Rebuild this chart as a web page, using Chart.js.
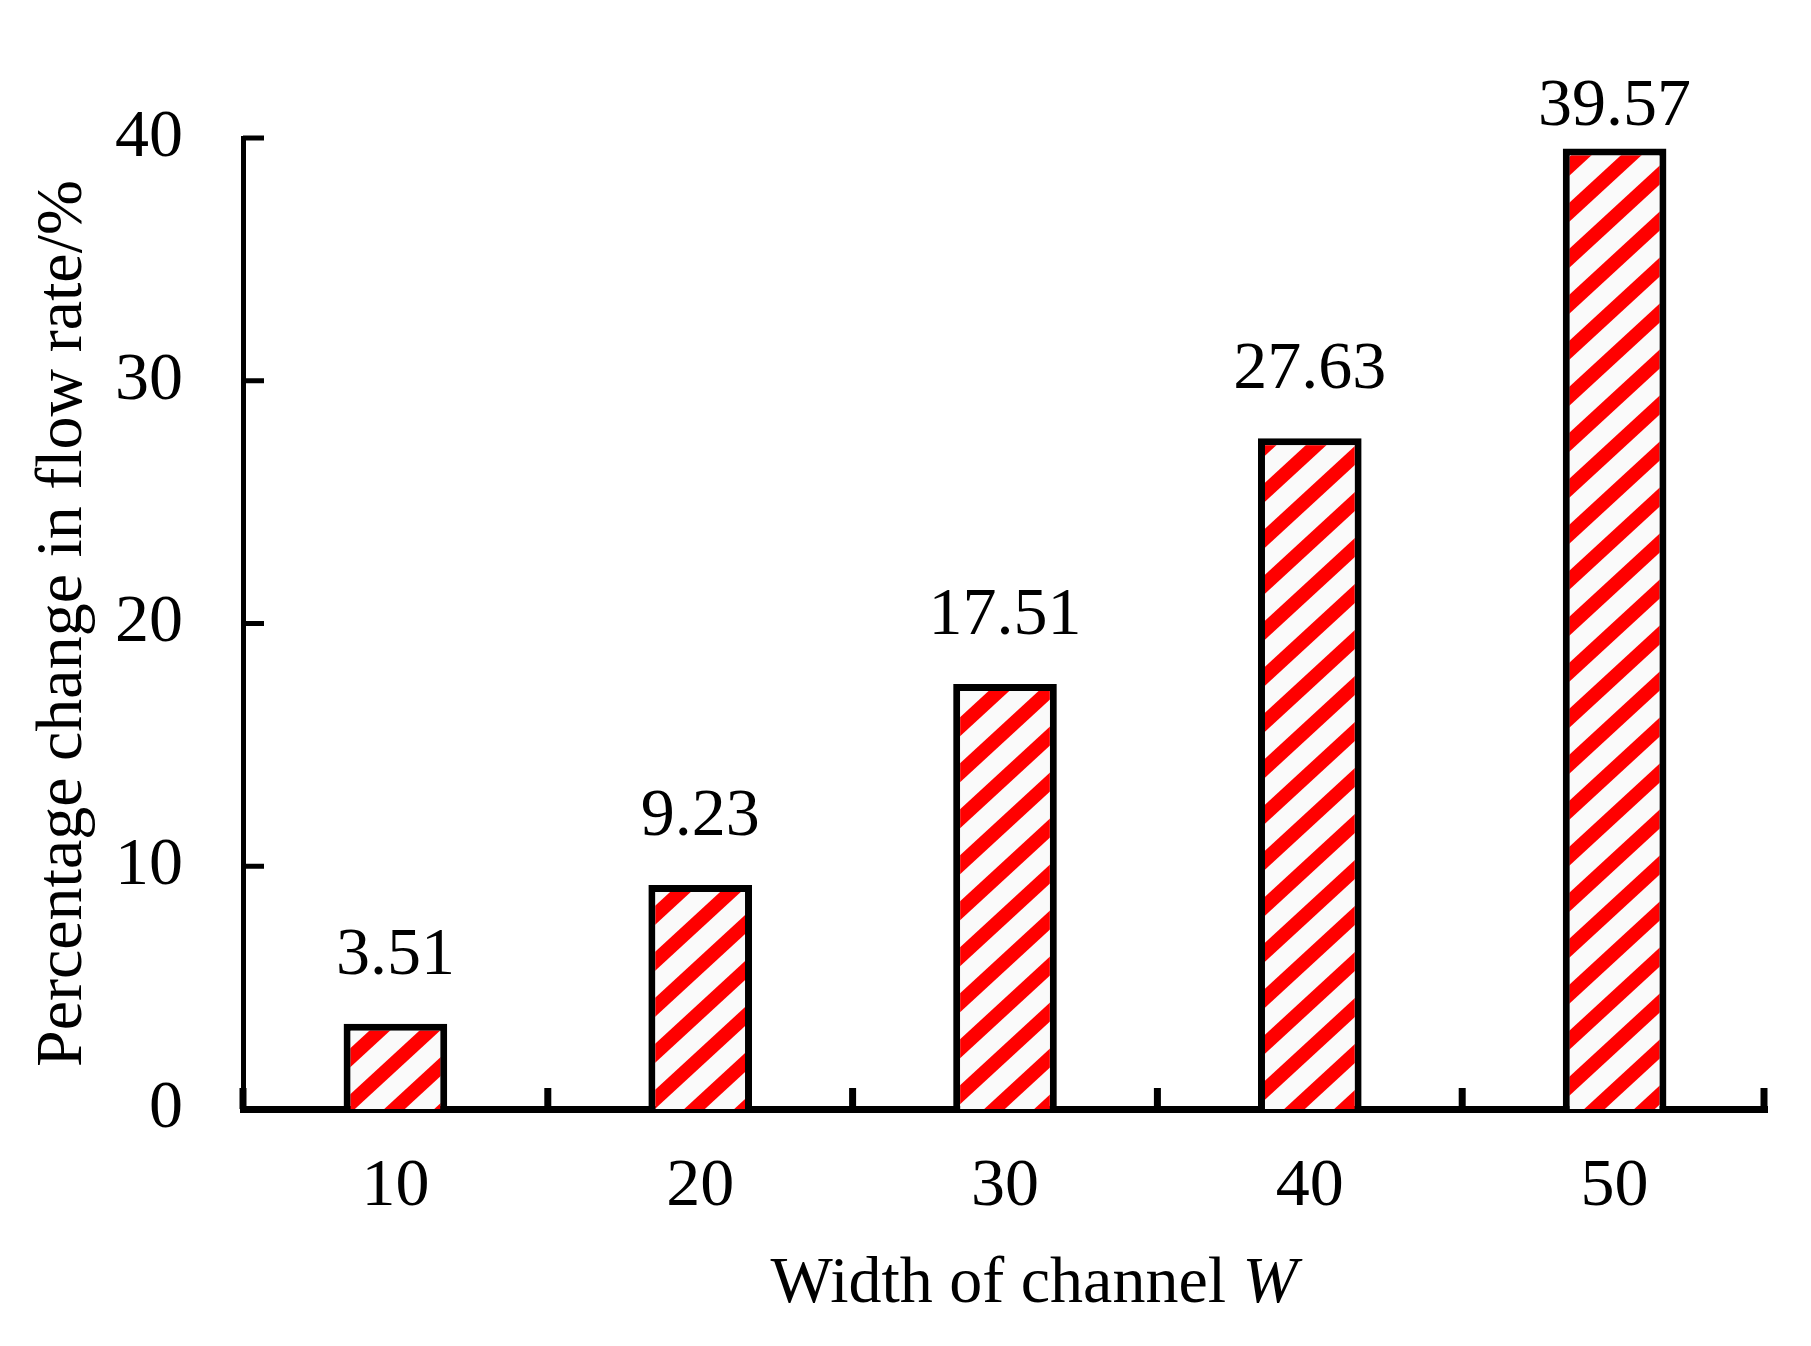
<!DOCTYPE html>
<html lang="en">
<head>
    <meta charset="UTF-8">
    <title>Percentage change in flow rate</title>
    <script src="https://cdn.jsdelivr.net/npm/chart.js"></script>
    <style>
        html, body { margin: 0; padding: 0; background: #fff; }
        .chart-container { position: relative; width: 1811px; height: 1346px; }
    </style>
</head>
<body>
    <div class="chart-container">
        <canvas id="flowChart"></canvas>
    </div>
    <script>
        // Data
        const widths = ['10', '20', '30', '40', '50'];
        const changes = [3.51, 9.23, 17.51, 27.63, 39.57];
        const valueLabels = ['3.51', '9.23', '17.51', '27.63', '39.57'];
        const yTicks = [0, 10, 20, 30, 40];

        const serif = '"Liberation Serif", "Times New Roman", serif';
        Chart.defaults.color = '#000';

        // Red diagonal hatch used as bar fill
        function makeHatch() {
            const c = document.createElement('canvas');
            c.width = 50;
            c.height = 46;
            const g = c.getContext('2d');
            g.fillStyle = '#fafafa';
            g.fillRect(0, 0, 50, 46);
            g.strokeStyle = '#ff0000';
            g.lineWidth = 14;
            for (let k = -1; k <= 1; k++) {
                g.beginPath();
                g.moveTo(k * 50 - 50, 92);
                g.lineTo(k * 50 + 100, -46);
                g.stroke();
            }
            return g.createPattern(c, 'repeat');
        }

        // Inward tick marks, value labels and axis titles
        const decor = {
            id: 'decor',
            afterDraw(chart) {
                const ctx = chart.ctx;
                const xs = chart.scales.x;
                const ys = chart.scales.y;
                const area = chart.chartArea;
                ctx.save();
                ctx.strokeStyle = '#000';

                ctx.lineWidth = 5;
                ys.ticks.forEach((t, i) => {
                    const py = ys.getPixelForTick(i);
                    ctx.beginPath();
                    ctx.moveTo(area.left, py);
                    ctx.lineTo(area.left + 21, py);
                    ctx.stroke();
                });

                ctx.lineWidth = 7;
                for (let i = 0; i <= widths.length; i++) {
                    let px;
                    if (i === 0) px = area.left;
                    else if (i === widths.length) px = area.right - 3;
                    else px = (xs.getPixelForValue(i - 1) + xs.getPixelForValue(i)) / 2;
                    ctx.beginPath();
                    ctx.moveTo(px, area.bottom);
                    ctx.lineTo(px, area.bottom - 21);
                    ctx.stroke();
                }

                // value labels above bars
                ctx.fillStyle = '#000';
                ctx.font = '68px ' + serif;
                ctx.textAlign = 'center';
                ctx.textBaseline = 'alphabetic';
                chart.getDatasetMeta(0).data.forEach((bar, i) => {
                    const base = Math.max(bar.y - 50, area.top - 13);
                    ctx.fillText(valueLabels[i], bar.x, base);
                });

                // y axis title
                ctx.font = '66px ' + serif;
                ctx.save();
                ctx.translate(81, (area.top + area.bottom) / 2);
                ctx.rotate(-Math.PI / 2);
                ctx.fillText('Percentage change in flow rate/%', 0, 0);
                ctx.restore();

                // x axis title with italic W
                const plain = 'Width of channel ';
                ctx.font = '66px ' + serif;
                const w1 = ctx.measureText(plain).width;
                ctx.font = 'italic 66px ' + serif;
                const w2 = ctx.measureText('W').width;
                const cx = (area.left + area.right) / 2 + 29;
                const startX = cx - (w1 + w2) / 2;
                ctx.textAlign = 'left';
                ctx.font = '66px ' + serif;
                ctx.fillText(plain, startX, 1302);
                ctx.font = 'italic 66px ' + serif;
                ctx.fillText('W', startX + w1, 1302);
                ctx.restore();
            }
        };

        new Chart(document.getElementById('flowChart'), {
            type: 'bar',
            data: {
                labels: widths,
                datasets: [{
                    data: changes,
                    backgroundColor: makeHatch(),
                    borderColor: '#000',
                    borderWidth: 7,
                    borderSkipped: 'start',
                    categoryPercentage: 1,
                    barPercentage: 0.34
                }]
            },
            options: {
                responsive: true,
                maintainAspectRatio: false,
                animation: false,
                layout: { padding: { top: 138, right: 44, bottom: 0, left: 0 } },
                plugins: {
                    legend: { display: false },
                    tooltip: { enabled: false }
                },
                scales: {
                    x: {
                        offset: true,
                        z: 1,
                        grid: { display: false, drawTicks: false },
                        border: { display: true, color: '#000', width: 7 },
                        ticks: { font: { family: serif, size: 68 }, color: '#000', padding: 37, maxRotation: 0 },
                        afterFit(s) { s.height = 237; }
                    },
                    y: {
                        min: 0,
                        max: 40,
                        afterBuildTicks(s) { s.ticks = yTicks.map(v => ({ value: v })); },
                        grid: { display: false, drawTicks: false },
                        border: { display: true, color: '#000', width: 5 },
                        ticks: { font: { family: serif, size: 68 }, color: '#000', padding: 60 },
                        afterFit(s) { s.width = 243; }
                    }
                }
            },
            plugins: [decor]
        });
    </script>
</body>
</html>
